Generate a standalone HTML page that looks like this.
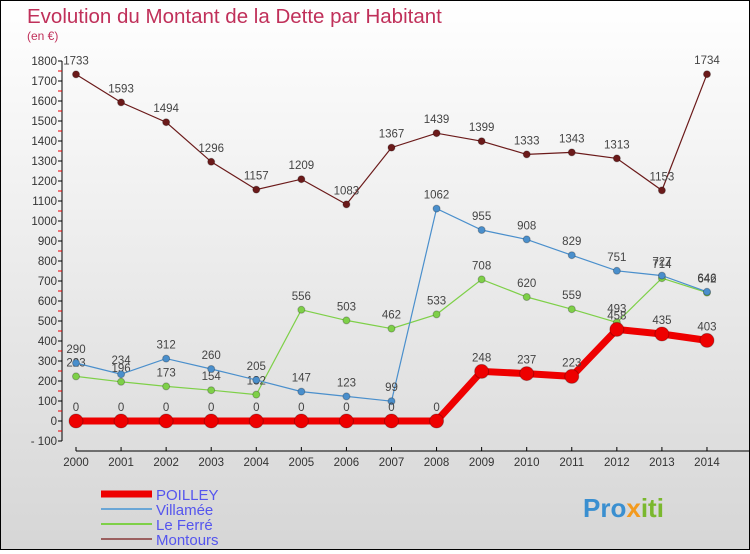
<!DOCTYPE html>
<html><head><meta charset="utf-8"><style>
body{margin:0}
#c{width:748px;height:548px;border:1px solid #000;background:linear-gradient(#fff,#d6d6d6);position:relative;font-family:"Liberation Sans",sans-serif}
svg text{font-family:"Liberation Sans",sans-serif}
</style></head><body>
<div id="c">
<svg id="s" width="748" height="548" xmlns="http://www.w3.org/2000/svg">
<text x="26" y="22" font-size="20.5" fill="#c0305a">Evolution du Montant de la Dette par Habitant</text>
<text x="26" y="39" font-size="12" fill="#c0305a">(en €)</text>
<g id="axes"></g><g id="series"></g><g id="legend"></g>
<text x="582" y="516" font-size="26" font-weight="bold" fill="#3a8fd0">Pro<tspan fill="#f39a1e">x</tspan><tspan fill="#7ab82e">iti</tspan></text>
</svg></div>
<script>
const years=[2000,2001,2002,2003,2004,2005,2006,2007,2008,2009,2010,2011,2012,2013,2014];
const poilley=[0,0,0,0,0,0,0,0,0,248,237,223,458,435,403];
const villamee=[290,234,312,260,205,147,123,99,1062,955,908,829,751,727,646];
const leferre=[223,196,173,154,132,556,503,462,533,708,620,559,493,714,642];
const montours=[1733,1593,1494,1296,1157,1209,1083,1367,1439,1399,1333,1343,1313,1153,1734];
const yTicks=[-100,0,100,200,300,400,500,600,700,800,900,1000,1100,1200,1300,1400,1500,1600,1700,1800];
const NS="http://www.w3.org/2000/svg";
const X=y=>75+(y-2000)*45.07, Y=v=>420-v*0.2;
function mk(t,a,p){const e=document.createElementNS(NS,t);for(const k in a)e.setAttribute(k,a[k]);p.appendChild(e);return e;}
const ax=document.getElementById('axes');
let l=mk('line',{x1:61,y1:Y(1800),x2:61,y2:Y(-100),stroke:'#000'},ax);


yTicks.forEach(v=>{
  mk('line',{x1:57,y1:Y(v),x2:61,y2:Y(v),stroke:'#000'},ax);
  if(v<1800)mk('line',{x1:57,y1:Y(v+50),x2:61,y2:Y(v+50),stroke:'#e00'},ax);
  const t=mk('text',{x:56,y:Y(v)+4,'font-size':11.5,fill:'#333','text-anchor':'end'},ax);t.textContent=v<0?'- '+(-v):v;
  
  
});
l=mk('line',{x1:75,y1:450,x2:748,y2:450,stroke:'#000'},ax);


years.forEach(y=>{
  mk('line',{x1:X(y),y1:446,x2:X(y),y2:450,stroke:'#000'},ax);
  const t=mk('text',{x:X(y),y:465,'font-size':11.5,fill:'#333','text-anchor':'middle'},ax);t.textContent=y;
  
  
});
const sg=document.getElementById('series');
function series(data,color,w,r,name){
  const g=mk('g',{},sg);
  
  
  mk('polyline',{points:data.map((v,i)=>X(years[i])+','+Y(v)).join(' '),fill:'none',stroke:color,'stroke-width':w},g);
  data.forEach((v,i)=>{
    const c=mk('circle',{cx:X(years[i]),cy:Y(v),r:r,fill:color,stroke:'rgba(0,0,0,0.25)'},g);
    
    
    const t=mk('text',{x:X(years[i]),y:Y(v)-10,'font-size':11.5,fill:'#444','text-anchor':'middle'},g);t.textContent=v;
    
    
  });
}
series(montours,'#6b1a1a',1.2,3.5,'montours');
series(leferre,'#7ed048',1.2,3.5,'le-ferre');
series(villamee,'#4a8fcc',1.2,3.5,'villamee');
series(poilley,'#ee0000',7,7,'poilley');
const lg=document.getElementById('legend');
[['POILLEY','#ee0000',7],['Villamée','#6aa6d6',2],['Le Ferré','#7ed048',2],['Montours','#9b6060',2]].forEach((d,i)=>{
  const y=493+i*15;
  const g=mk('g',{},lg);
  
  
  mk('line',{x1:100,y1:y,x2:151,y2:y,stroke:d[1],'stroke-width':d[2]},g);
  const t=mk('text',{x:155,y:y+6,'font-size':15,fill:'#5555ee'},g);t.textContent=d[0];
});
</script>
</body></html>
